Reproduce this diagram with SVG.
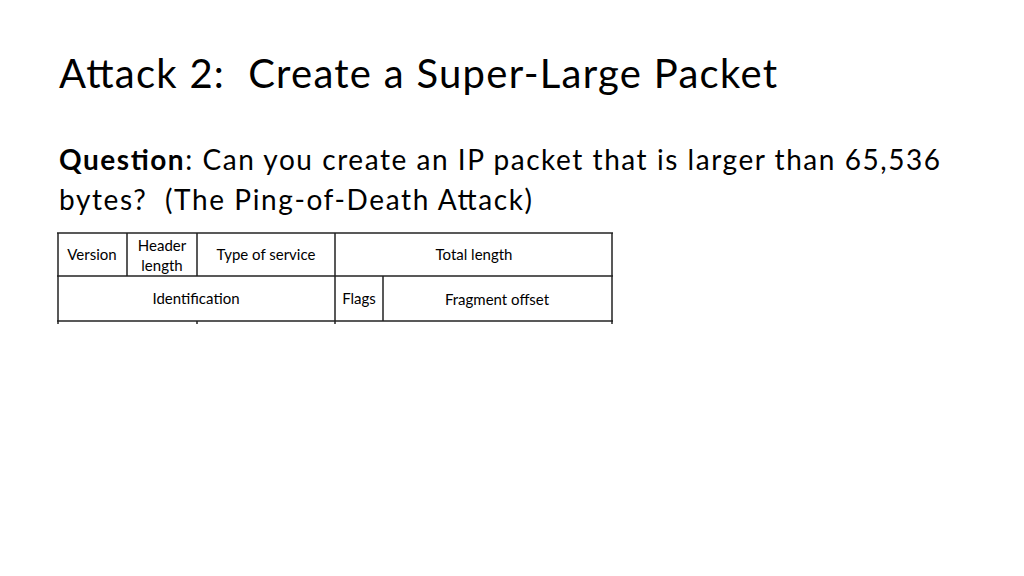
<svg xmlns="http://www.w3.org/2000/svg" width="1024" height="576" viewBox="0 0 1024 576">
<style>
text{font-family:Lato,"Open Sans",sans-serif;fill:#000}
.t{font-size:15px;text-anchor:middle}
line{stroke:#222;stroke-width:1.5}
</style>
<rect width="1024" height="576" fill="#fff"/>
<text x="59" y="88" font-size="40" xml:space="preserve" textLength="718">Attack 2:  Create a Super-Large Packet</text>
<text x="59" y="170" font-size="28" textLength="881"><tspan font-weight="bold">Question</tspan>: Can you create an IP packet that is larger than 65,536</text>
<text x="59" y="210" font-size="28" xml:space="preserve" textLength="473">bytes?  (The Ping-of-Death Attack)</text>
<g id="table">
<line x1="57" y1="233" x2="613" y2="233"/>
<line x1="57" y1="276" x2="613" y2="276"/>
<line x1="57" y1="321" x2="613" y2="321"/>
<line x1="58" y1="233" x2="58" y2="324"/>
<line x1="612" y1="233" x2="612" y2="324"/>
<line x1="127" y1="233" x2="127" y2="276"/>
<line x1="197" y1="233" x2="197" y2="276"/>
<line x1="335" y1="233" x2="335" y2="324"/>
<line x1="383" y1="276" x2="383" y2="321"/>
<line x1="197" y1="321" x2="197" y2="324"/>
</g>
<g id="labels">
<text class="t" x="92" y="260">Version</text>
<text class="t" x="162" y="251">Header</text>
<text class="t" x="162" y="271">length</text>
<text class="t" x="266" y="260">Type of service</text>
<text class="t" x="474" y="260">Total length</text>
<text class="t" x="196" y="304">Identification</text>
<text class="t" x="359" y="304">Flags</text>
<text class="t" x="497" y="305">Fragment offset</text>
</g>
</svg>
